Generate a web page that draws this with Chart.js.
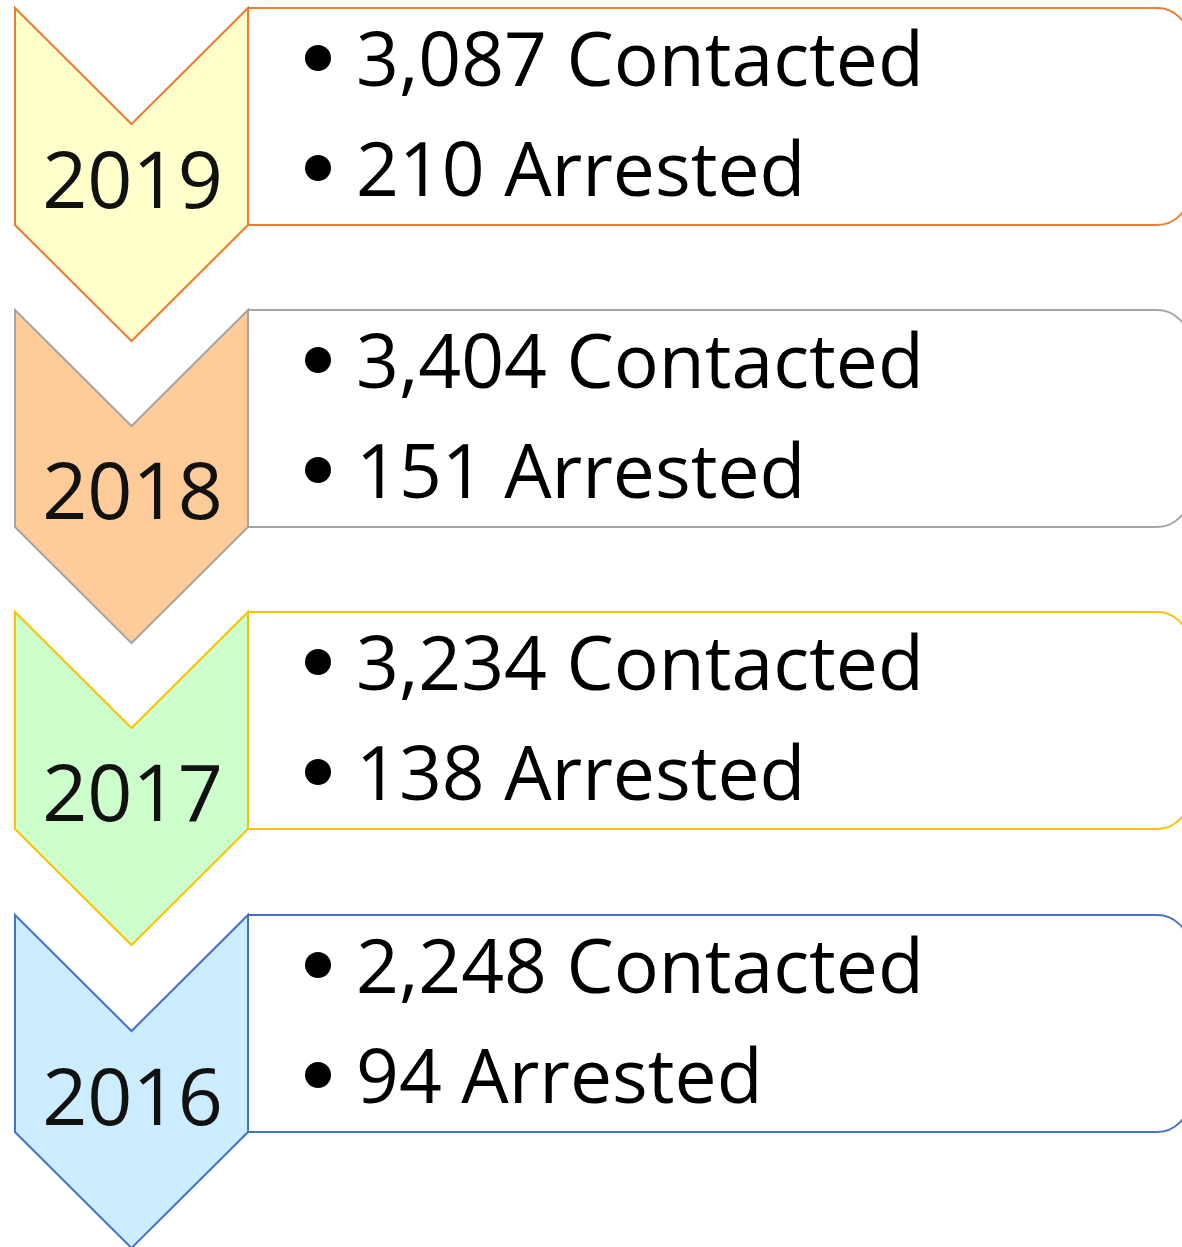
<!DOCTYPE html>
<html>
<head>
<meta charset="utf-8">
<script src="https://cdn.jsdelivr.net/npm/chart.js@4"></script>
<style>
  html, body { margin: 0; padding: 0; background: #fff; }
  #wrap { width: 1182px; height: 1247px; position: relative; }
</style>
</head>
<body>
<div id="wrap"><canvas id="timeline"></canvas></div>
<script>
// Datos por año
const years = ['2019', '2018', '2017', '2016'];
const contacted = [3087, 3404, 3234, 2248];
const arrested = [210, 151, 138, 94];

// Estilo de cada fila
const fills = ['#FFFFCC', '#FFCC99', '#CCFFCC', '#CCECFF'];
const strokes = ['#ED7D31', '#A5A5A5', '#FFC000', '#4472C4'];
const yearBaseline = [200, 209, 209, 210];

const fmt = n => n.toLocaleString('en-US');

// Dibuja los chevrones, las cajas y los textos sobre la escala y
const timelinePlugin = {
    id: 'timeline',
    afterDatasetsDraw(chart) {
        const ctx = chart.ctx;
        const yScale = chart.scales.y;
        const left = 15, right = 248, mid = (left + right) / 2;
        const height = 217, notch = 116;
        const boxRight = 1189, r = 32;

        years.forEach((year, i) => {
            const cy = yScale.getPixelForValue(i);
            const top = Math.round(cy - height / 2), bottom = top + height;

            ctx.save();
            ctx.lineWidth = 2;
            ctx.lineJoin = 'miter';
            ctx.strokeStyle = strokes[i];

            // caja
            ctx.fillStyle = '#ffffff';
            ctx.beginPath();
            ctx.moveTo(right, top);
            ctx.lineTo(boxRight - r, top);
            ctx.arcTo(boxRight, top, boxRight, top + r, r);
            ctx.lineTo(boxRight, bottom - r);
            ctx.arcTo(boxRight, bottom, boxRight - r, bottom, r);
            ctx.lineTo(right, bottom);
            ctx.closePath();
            ctx.fill();
            ctx.stroke();

            // chevron
            ctx.fillStyle = fills[i];
            ctx.beginPath();
            ctx.moveTo(left, top);
            ctx.lineTo(mid, top + notch);
            ctx.lineTo(right, top);
            ctx.lineTo(right, bottom);
            ctx.lineTo(mid, bottom + notch);
            ctx.lineTo(left, bottom);
            ctx.closePath();
            ctx.fill();
            ctx.stroke();

            // año
            ctx.fillStyle = '#111111';
            ctx.font = '79px "Open Sans", "Noto Sans", sans-serif';
            ctx.textAlign = 'center';
            ctx.textBaseline = 'alphabetic';
            ctx.fillText(year, mid + 1, top + yearBaseline[i]);

            // viñetas
            const lines = [
                fmt(chart.data.datasets[0].data[i]) + ' Contacted',
                fmt(chart.data.datasets[1].data[i]) + ' Arrested'
            ];
            ctx.fillStyle = '#000000';
            ctx.font = '75px "Open Sans", "Noto Sans", sans-serif';
            ctx.textAlign = 'left';
            lines.forEach((txt, k) => {
                const base = top + 78 + k * 110;
                ctx.beginPath();
                ctx.arc(318, base - 28, 13, 0, Math.PI * 2);
                ctx.fill();
                ctx.fillText(txt, 356, base);
            });
            ctx.restore();
        });
    }
};

const chart = new Chart(document.getElementById('timeline'), {
    type: 'bar',
    data: {
        labels: years,
        datasets: [
            { label: 'Contacted', data: contacted, backgroundColor: 'rgba(0,0,0,0)', borderWidth: 0 },
            { label: 'Arrested', data: arrested, backgroundColor: 'rgba(0,0,0,0)', borderWidth: 0 }
        ]
    },
    options: {
        indexAxis: 'y',
        responsive: true,
        maintainAspectRatio: false,
        animation: false,
        layout: {
            padding: { top: 116, bottom: 224, left: 0, right: 0 }
        },
        scales: {
            x: { display: false },
            y: { display: false, offset: false }
        },
        plugins: {
            tooltip: { enabled: false },
            legend: { display: false }
        }
    },
    plugins: [timelinePlugin]
});
</script>
</body>
</html>
